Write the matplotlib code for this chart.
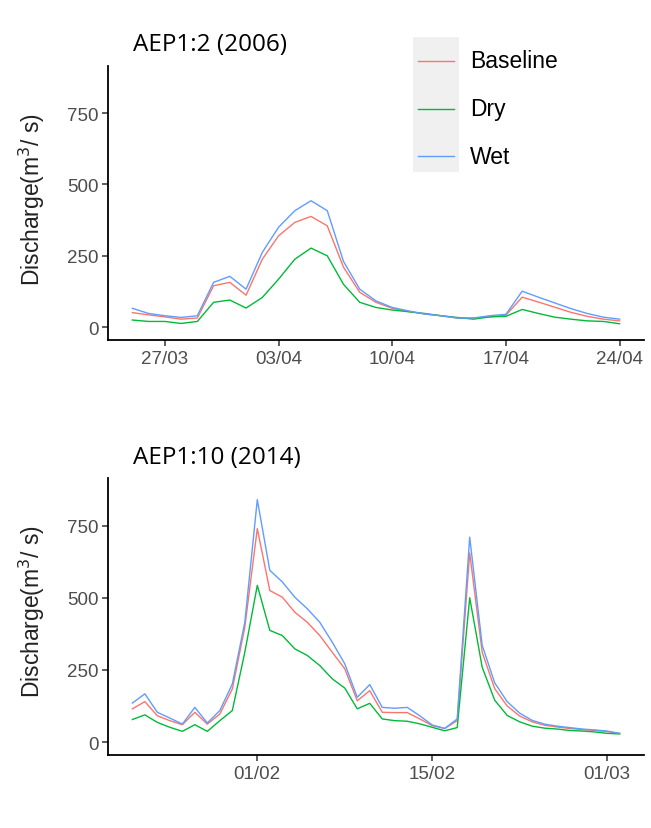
import matplotlib
matplotlib.use("Agg")
import matplotlib.pyplot as plt
import matplotlib.dates as mdates
from matplotlib.lines import Line2D
from matplotlib.patches import Rectangle
import pandas as pd

# ---------------- data ----------------
series_names = ["Baseline", "Dry", "Wet"]
series_colors = ["#F8766D", "#00BA38", "#619CFF"]

# Panel 1: AEP1:2 (2006), daily from 25/03/2006
start_2006 = "2006-03-25"
base_2006 = [51, 43, 36, 28, 32, 145, 157, 112, 238, 320, 367, 388, 355, 210, 122, 87,
             66, 55, 46, 40, 32, 32, 36, 42, 105, 88, 70, 52, 38, 28, 22]
dry_2006 = [25, 20, 20, 13, 20, 87, 95, 67, 104, 168, 238, 277, 250, 150, 87, 69,
            60, 54, 48, 40, 34, 28, 36, 38, 62, 48, 35, 28, 22, 20, 12]
wet_2006 = [66, 48, 40, 34, 40, 157, 178, 133, 262, 350, 408, 443, 408, 230, 133, 92,
            69, 57, 46, 40, 32, 32, 40, 45, 126, 105, 85, 65, 48, 35, 28]
ticks_2006 = ["2006-03-27", "2006-04-03", "2006-04-10", "2006-04-17", "2006-04-24"]

# Panel 2: AEP1:10 (2014), daily from 22/01/2014
start_2014 = "2014-01-22"
base_2014 = [115, 140, 91, 74, 60, 103, 62, 97, 184, 398, 740, 525, 502, 450, 415, 369,
             311, 254, 143, 178, 103, 102, 102, 80, 57, 47, 74, 655, 311, 185, 125, 90,
             70, 58, 52, 47, 43, 40, 36, 30]
dry_2014 = [78, 94, 68, 51, 37, 60, 37, 74, 109, 311, 543, 387, 369, 323, 300, 265,
            219, 187, 115, 134, 80, 74, 72, 63, 51, 39, 50, 500, 259, 145, 92, 70,
            55, 48, 45, 40, 38, 35, 30, 28]
wet_2014 = [135, 167, 103, 83, 62, 120, 66, 109, 201, 415, 840, 595, 555, 502, 462, 415,
            346, 271, 155, 199, 120, 117, 120, 91, 59, 47, 80, 710, 335, 205, 140, 100,
            75, 62, 55, 50, 45, 42, 38, 30]
ticks_2014 = ["2014-02-01", "2014-02-15", "2014-03-01"]

y_ticks = [0, 250, 500, 750]
y_limits = (-45, 915)

titles = ["AEP1:2 (2006)", "AEP1:10 (2014)"]

# ---------------- figure ----------------
W, H = 651, 829
fig = plt.figure(figsize=(W / 100, H / 100), dpi=100)
fig.patch.set_facecolor("white")

def fx(px):
    return px / W

def fy(py):
    return 1 - py / H

panels = [
    dict(start=start_2006, series=[base_2006, dry_2006, wet_2006], ticks=ticks_2006,
         rect=[fx(108), fy(341), fx(644) - fx(108), fy(67) - fy(341)],
         title=titles[0], title_y=45, ylab_y=200),
    dict(start=start_2014, series=[base_2014, dry_2014, wet_2014], ticks=ticks_2014,
         rect=[fx(108), fy(756), fx(644) - fx(108), fy(479) - fy(756)],
         title=titles[1], title_y=458, ylab_y=612),
]

tick_font = "Liberation Sans"

for p in panels:
    ax = fig.add_axes(p["rect"])
    ax.patch.set_alpha(0)
    ax.set_zorder(2)
    n = len(p["series"][0])
    dates = pd.date_range(p["start"], periods=n, freq="D")
    for vals, name, col in zip(p["series"], series_names, series_colors):
        ax.plot(dates, vals, color=col, lw=1.0, label=name)
    d0 = mdates.date2num(dates[0])
    d1 = mdates.date2num(dates[-1])
    pad = (d1 - d0) * 0.05
    ax.set_xlim(d0 - pad, d1 + pad)
    ax.set_ylim(*y_limits)
    ax.set_yticks(y_ticks)
    ax.set_xticks([mdates.date2num(pd.Timestamp(t)) for t in p["ticks"]])
    ax.xaxis.set_major_formatter(mdates.DateFormatter("%d/%m"))
    for s in ["top", "right"]:
        ax.spines[s].set_visible(False)
    for s in ["left", "bottom"]:
        ax.spines[s].set_linewidth(1.3)
        ax.spines[s].set_color("black")
    ax.tick_params(axis="both", length=4, width=1.1, color="#333333",
                   labelcolor="#4D4D4D", labelsize=13.5, pad=3)
    for lab in ax.get_xticklabels() + ax.get_yticklabels():
        lab.set_fontfamily(tick_font)
    fig.text(fx(32), fy(p["ylab_y"]), "Discharge(m$^3$/ s)", rotation=90,
             ha="center", va="center", fontsize=16.5, color="#222222",
             family=tick_font)
    fig.text(fx(133), fy(p["title_y"]), p["title"], ha="left", va="center",
             fontsize=17.5, family="Open Sans", color="black")

# legend (drawn in figure coordinates)
fig.add_artist(Rectangle((fx(413), fy(173)), fx(459) - fx(413), fy(38) - fy(173),
                         transform=fig.transFigure, facecolor="#F0F0F0",
                         edgecolor="none", zorder=1))
for i, (name, col) in enumerate(zip(series_names, series_colors)):
    yy = fy(62 + 47.5 * i)
    fig.add_artist(Line2D([fx(418), fx(454)], [yy, yy], transform=fig.transFigure,
                          color=col, lw=1.0, zorder=3))
    fig.text(fx(470), yy, name, ha="left", va="center", fontsize=16.5,
             family=tick_font, color="black", zorder=3)

fig.savefig("out.png", dpi=100)
